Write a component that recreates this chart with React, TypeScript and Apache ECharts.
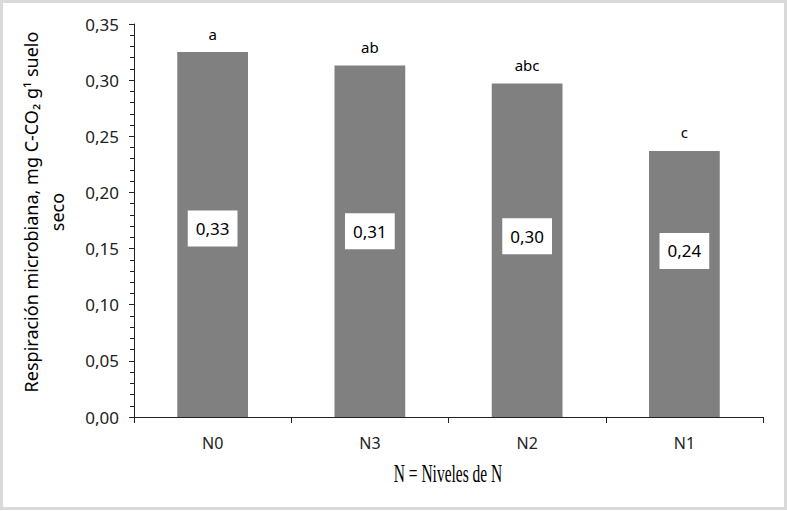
import { useEffect, useRef } from 'react';
import * as echarts from 'echarts';

const niveles = ['N0', 'N3', 'N2', 'N1'];
const respiracion = [0.325, 0.313, 0.297, 0.237];
const letras = ['a', 'ab', 'abc', 'c'];
const yTicks = [0, 0.05, 0.1, 0.15, 0.2, 0.25, 0.3, 0.35];

// the white value boxes were moved by hand in the original, so shift them up a bit
const boxShift = [-6, -10, -14, -33];

const fmt = (v: number) => (Math.round(v * 100 + 1e-9) / 100).toFixed(2).replace('.', ',');

export default function App() {
  const chartRef = useRef<HTMLDivElement>(null);

  useEffect(() => {
    if (!chartRef.current) return;
    document.body.style.margin = '0';

    const chart = echarts.init(chartRef.current, null, { renderer: 'svg' });
    const font = '"Noto Sans", "Open Sans", sans-serif';

    const option: echarts.EChartsOption = {
      animation: false,
      backgroundColor: '#fff',
      grid: { left: 134, right: 24, top: 24, bottom: 94 },
      xAxis: {
        type: 'category',
        data: niveles,
        boundaryGap: true,
        axisLine: { lineStyle: { color: '#222', width: 1 } },
        axisTick: { show: true, length: 6, alignWithLabel: false, lineStyle: { color: '#222' } },
        axisLabel: { color: '#222', fontSize: 16, fontFamily: font, margin: 18 },
        splitLine: { show: false },
      },
      yAxis: {
        type: 'value',
        min: yTicks[0],
        max: yTicks[yTicks.length - 1],
        interval: 0.05,
        axisLine: { show: true, lineStyle: { color: '#222', width: 1 } },
        axisTick: { show: true, length: 5, lineStyle: { color: '#222' } },
        minorTick: { show: true, splitNumber: 5, length: 4, lineStyle: { color: '#222' } },
        axisLabel: {
          color: '#222',
          fontSize: 17,
          fontFamily: font,
          margin: 15,
          formatter: (v: number) => v.toFixed(2).replace('.', ','),
        },
        splitLine: { show: false },
      },
      series: [
        {
          type: 'bar',
          barWidth: '45%',
          barGap: '-100%',
          itemStyle: { color: '#808080' },
          data: respiracion.map((v, i) => ({
            value: v,
            label: {
              show: true,
              position: 'inside',
              offset: [0, boxShift[i]],
              formatter: fmt(v),
              color: '#000',
              fontSize: 17,
              fontFamily: font,
              backgroundColor: '#fff',
              padding: [10, 8, 9, 8],
            },
          })),
        },
        {
          type: 'bar',
          barWidth: '45%',
          barGap: '-100%',
          itemStyle: { color: 'rgba(0,0,0,0)' },
          silent: true,
          data: respiracion.map((v, i) => ({
            value: v,
            label: {
              show: true,
              position: 'top',
              distance: 11,
              formatter: letras[i],
              color: '#000',
              fontSize: 15,
              fontFamily: font,
            },
          })),
        },
      ],
      graphic: [
        {
          type: 'rect',
          shape: { x: 1.5, y: 1.5, width: 784, height: 507 },
          style: { fill: 'none', stroke: '#d9d9d9', lineWidth: 3 },
          silent: true,
        },
        {
          type: 'text',
          x: 44,
          y: 212,
          rotation: Math.PI / 2,
          style: {
            text: 'Respiración microbiana, mg C-CO₂ g¹ suelo\nseco',
            fill: '#000',
            font: `18px ${font}`,
            align: 'center',
            verticalAlign: 'middle',
            lineHeight: 26,
          },
        },
        {
          type: 'text',
          x: 448,
          y: 473,
          scaleX: 0.62,
          style: {
            text: 'N = Niveles de N',
            fill: '#000',
            font: '25px "Liberation Serif", serif',
            align: 'center',
            verticalAlign: 'middle',
          },
        },
      ],
    };

    chart.setOption(option);

    return () => {
      chart.dispose();
    };
  }, []);

  return <div ref={chartRef} style={{ width: '787px', height: '511px' }}></div>;
}
